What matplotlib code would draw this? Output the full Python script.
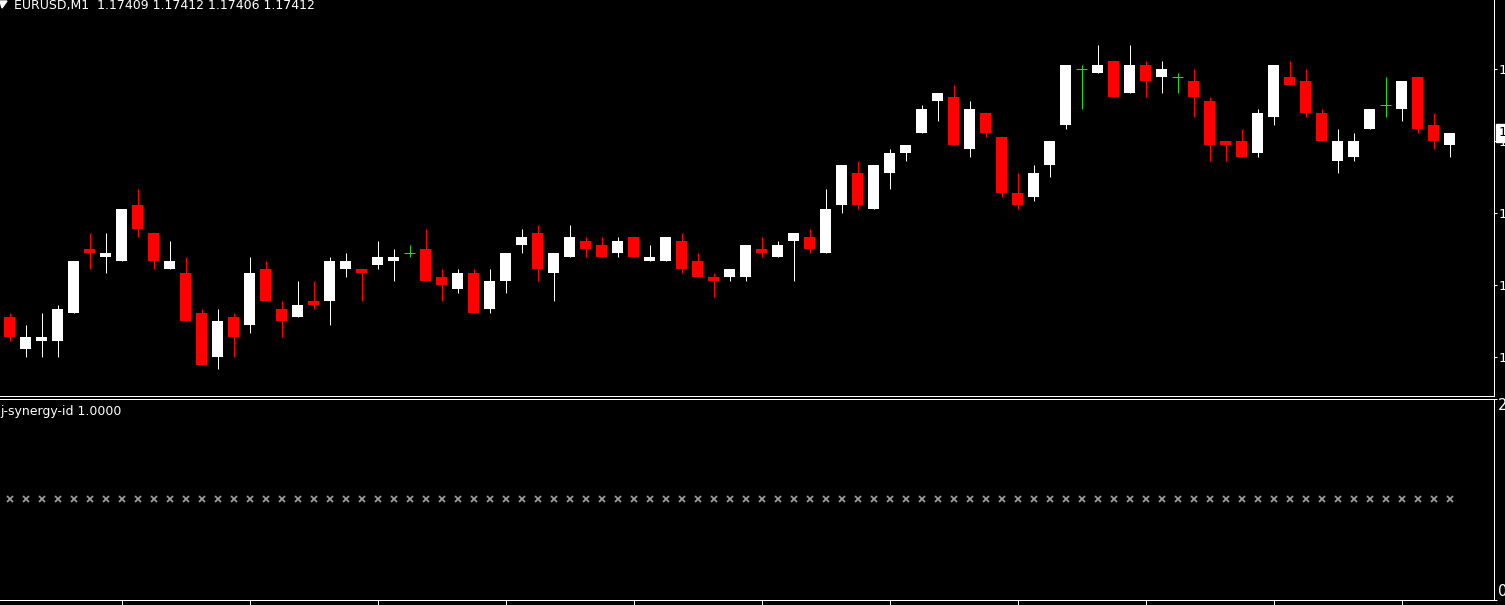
import matplotlib
matplotlib.use("Agg")
import matplotlib.pyplot as plt
from matplotlib.patches import Polygon
from matplotlib.transforms import blended_transform_factory

# EURUSD M1 bars (oldest -> newest)
opens = [1.17366, 1.17358, 1.17360, 1.17360, 1.17367, 1.17383, 1.17381, 1.17380, 1.17394, 1.17387,
         1.17378, 1.17377, 1.17367, 1.17356, 1.17366, 1.17364, 1.17378, 1.17368, 1.17366, 1.17370,
         1.17370, 1.17378, 1.17378, 1.17379, 1.17380, 1.17382, 1.17383, 1.17376, 1.17373, 1.17377,
         1.17368, 1.17375, 1.17384, 1.17387, 1.17377, 1.17381, 1.17385, 1.17384, 1.17382, 1.17386,
         1.17380, 1.17380, 1.17385, 1.17380, 1.17376, 1.17376, 1.17376, 1.17383, 1.17381, 1.17385,
         1.17386, 1.17382, 1.17394, 1.17402, 1.17393, 1.17402, 1.17407, 1.17412, 1.17420, 1.17421,
         1.17408, 1.17417, 1.17411, 1.17397, 1.17396, 1.17404, 1.17414, 1.17428, 1.17427, 1.17430,
         1.17422, 1.17429, 1.17426, 1.17426, 1.17425, 1.17420, 1.17410, 1.17410, 1.17407, 1.17416,
         1.17426, 1.17425, 1.17417, 1.17405, 1.17406, 1.17413, 1.17419, 1.17418, 1.17426, 1.17414,
         1.17409]
highs = [1.17367, 1.17364, 1.17367, 1.17369, 1.17380, 1.17387, 1.17387, 1.17393, 1.17398, 1.17387,
         1.17385, 1.17381, 1.17368, 1.17368, 1.17367, 1.17381, 1.17380, 1.17370, 1.17375, 1.17375,
         1.17381, 1.17382, 1.17378, 1.17385, 1.17383, 1.17384, 1.17388, 1.17378, 1.17378, 1.17378,
         1.17378, 1.17382, 1.17388, 1.17389, 1.17382, 1.17389, 1.17386, 1.17386, 1.17386, 1.17386,
         1.17384, 1.17386, 1.17387, 1.17382, 1.17377, 1.17378, 1.17384, 1.17386, 1.17385, 1.17387,
         1.17388, 1.17398, 1.17404, 1.17405, 1.17404, 1.17408, 1.17409, 1.17419, 1.17422, 1.17424,
         1.17420, 1.17417, 1.17411, 1.17402, 1.17404, 1.17410, 1.17429, 1.17429, 1.17434, 1.17430,
         1.17434, 1.17430, 1.17430, 1.17427, 1.17428, 1.17421, 1.17410, 1.17413, 1.17418, 1.17429,
         1.17430, 1.17428, 1.17418, 1.17413, 1.17412, 1.17418, 1.17426, 1.17425, 1.17426, 1.17417,
         1.17412]
lows = [1.17360, 1.17356, 1.17356, 1.17356, 1.17367, 1.17378, 1.17377, 1.17380, 1.17386, 1.17378,
        1.17378, 1.17365, 1.17354, 1.17353, 1.17356, 1.17362, 1.17370, 1.17361, 1.17366, 1.17368,
        1.17364, 1.17376, 1.17370, 1.17378, 1.17375, 1.17381, 1.17375, 1.17370, 1.17372, 1.17367,
        1.17367, 1.17372, 1.17382, 1.17375, 1.17370, 1.17381, 1.17381, 1.17381, 1.17381, 1.17381,
        1.17380, 1.17380, 1.17377, 1.17376, 1.17371, 1.17375, 1.17375, 1.17381, 1.17381, 1.17375,
        1.17382, 1.17382, 1.17392, 1.17393, 1.17393, 1.17398, 1.17405, 1.17412, 1.17415, 1.17409,
        1.17406, 1.17411, 1.17396, 1.17393, 1.17395, 1.17401, 1.17413, 1.17418, 1.17427, 1.17421,
        1.17422, 1.17421, 1.17422, 1.17422, 1.17416, 1.17405, 1.17405, 1.17406, 1.17406, 1.17414,
        1.17424, 1.17416, 1.17410, 1.17402, 1.17405, 1.17413, 1.17416, 1.17415, 1.17412, 1.17408,
        1.17406]
closes = [1.17361, 1.17361, 1.17361, 1.17368, 1.17380, 1.17382, 1.17382, 1.17393, 1.17388, 1.17380,
          1.17380, 1.17365, 1.17354, 1.17365, 1.17361, 1.17377, 1.17370, 1.17365, 1.17369, 1.17369,
          1.17380, 1.17380, 1.17377, 1.17381, 1.17381, 1.17382, 1.17375, 1.17374, 1.17377, 1.17367,
          1.17375, 1.17382, 1.17386, 1.17378, 1.17382, 1.17386, 1.17383, 1.17381, 1.17385, 1.17381,
          1.17381, 1.17386, 1.17378, 1.17376, 1.17375, 1.17378, 1.17384, 1.17382, 1.17384, 1.17387,
          1.17383, 1.17393, 1.17404, 1.17394, 1.17404, 1.17407, 1.17409, 1.17418, 1.17422, 1.17409,
          1.17418, 1.17412, 1.17397, 1.17394, 1.17402, 1.17410, 1.17429, 1.17428, 1.17429, 1.17421,
          1.17429, 1.17425, 1.17428, 1.17426, 1.17421, 1.17409, 1.17409, 1.17406, 1.17417, 1.17429,
          1.17424, 1.17417, 1.17410, 1.17410, 1.17410, 1.17418, 1.17419, 1.17425, 1.17413, 1.17410,
          1.17412]

# j-synergy-id indicator buffer (flat 1.0 on every bar)
synergy = [1.0, 1.0, 1.0, 1.0, 1.0, 1.0, 1.0, 1.0, 1.0, 1.0, 1.0, 1.0, 1.0, 1.0, 1.0, 1.0, 1.0, 1.0, 1.0, 1.0,
           1.0, 1.0, 1.0, 1.0, 1.0, 1.0, 1.0, 1.0, 1.0, 1.0, 1.0, 1.0, 1.0, 1.0, 1.0, 1.0, 1.0, 1.0, 1.0, 1.0,
           1.0, 1.0, 1.0, 1.0, 1.0, 1.0, 1.0, 1.0, 1.0, 1.0, 1.0, 1.0, 1.0, 1.0, 1.0, 1.0, 1.0, 1.0, 1.0, 1.0,
           1.0, 1.0, 1.0, 1.0, 1.0, 1.0, 1.0, 1.0, 1.0, 1.0, 1.0, 1.0, 1.0, 1.0, 1.0, 1.0, 1.0, 1.0, 1.0, 1.0,
           1.0, 1.0, 1.0, 1.0, 1.0, 1.0, 1.0, 1.0, 1.0, 1.0, 1.0]

price_ticks = [1.17428, 1.17410, 1.17392, 1.17374, 1.17356]
time_ticks = [7, 15, 23, 31, 39, 47, 55, 63, 71, 79, 87]
title = "EURUSD,M1  1.17409 1.17412 1.17406 1.17412"
last_price = 1.17412

W, H = 1505, 605
fig = plt.figure(figsize=(W / 100, H / 100), dpi=100, facecolor="black")


def px_rect(x0, y0, x1, y1):
    return [x0 / W, 1 - y1 / H, (x1 - x0) / W, (y1 - y0) / H]


x_right = 1493.5
ax = fig.add_axes(px_rect(0, 0, x_right, 395.5))
ax2 = fig.add_axes(px_rect(0, 398.5, x_right, 599.5))

lw = 0.72  # one pixel
n = len(opens)
xs = list(range(n))

for i in xs:
    o, h, l, c = opens[i], highs[i], lows[i], closes[i]
    if c > o:
        col = "#ffffff"
    elif c < o:
        col = "#ff0000"
    else:
        col = "#22d622"
    ax.vlines(i, l, h, colors=col, linewidth=lw)
    if c == o:
        ax.hlines(o, i - 0.34, i + 0.34, colors=col, linewidth=lw)
    else:
        ax.bar(i, abs(c - o), bottom=min(o, c), width=0.69, color=col, linewidth=0)

ax.set_facecolor("black")
ax.set_xlim(-9.5 / 16, (x_right - 9.5) / 16)
ax.set_ylim(1.17412 - (395.5 - 133) / 4e5, 1.17412 + 133 / 4e5)
ax.set_xticks([])
ax.yaxis.tick_right()
ax.set_yticks(price_ticks)
ax.set_yticklabels(["%.5f" % p for p in price_ticks])
ax.tick_params(axis="y", colors="white", direction="out", length=2.4, width=lw, labelsize=9.5, pad=1.2)
for s in ["top", "left"]:
    ax.spines[s].set_visible(False)
for s in ["right", "bottom"]:
    ax.spines[s].set_color("white")
    ax.spines[s].set_linewidth(lw)

# current price box on the scale
tr = blended_transform_factory(ax.transAxes, ax.transData)
ax.text(1.0 + 5 / x_right, last_price, "%.5f" % last_price, transform=tr, color="black", fontsize=9.5,
        va="center", ha="left", clip_on=False,
        bbox=dict(fc="white", ec="white", boxstyle="square,pad=0.22"))

# indicator window
ax2.set_facecolor("black")
ax2.plot(xs, synergy, linestyle="none", marker="x", markersize=4.5, markeredgewidth=1.3, color="#9a9a9a")
ax2.set_xlim(ax.get_xlim())
ax2.set_ylim(0, 2)
ax2.yaxis.tick_right()
ax2.set_yticks([0, 2])
ax2.set_yticklabels(["0", "2"])
ax2.tick_params(colors="white", direction="out", length=2.4, width=lw, labelsize=10.5, pad=0.5)
ax2.tick_params(axis="x", length=3.5)
ax2.set_xticks(time_ticks)
ax2.set_xticklabels([])
ax2.spines["left"].set_visible(False)
for s in ["top", "right", "bottom"]:
    ax2.spines[s].set_color("white")
    ax2.spines[s].set_linewidth(lw)
ylabs = ax2.yaxis.get_majorticklabels()
ylabs[0].set_va("bottom")
ylabs[1].set_va("top")

fig.text(14 / W, 1 - 5.5 / H, title, color="white", fontsize=9, va="center", ha="left")
fig.text(0, 1 - 411 / H, "j-synergy-id 1.0000", color="white", fontsize=9, va="center", ha="left")
tri = [[0, 1], [7, 1], [2, 8]]
fig.add_artist(Polygon([[x / W, 1 - y / H] for x, y in tri], closed=True, color="white",
                       transform=fig.transFigure))

fig.savefig("out.png", dpi=100, facecolor="black")
